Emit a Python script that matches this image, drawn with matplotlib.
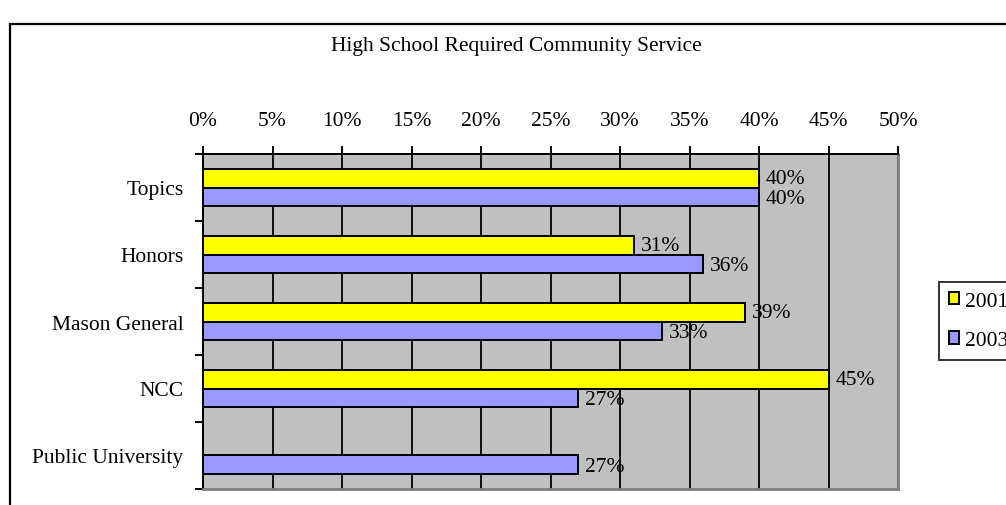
import numpy as np
import matplotlib
matplotlib.use('Agg')
from matplotlib import pyplot as plt
from matplotlib.patches import Rectangle, Patch
from matplotlib.ticker import PercentFormatter

categories = ['Topics', 'Honors', 'Mason General', 'NCC', 'Public University']
y2001 = [40, 31, 39, 45, None]
y2003 = [40, 36, 33, 27, 27]
years = ['2001', '2003']
xticks = [0, 5, 10, 15, 20, 25, 30, 35, 40, 45, 50]

plt.rcParams['font.family'] = ['Liberation Serif', 'DejaVu Serif']
fs = 15.5

fig = plt.figure(figsize=(10.06, 5.06), dpi=100)
W, H = 1006, 506

# outer chart frame (runs off the right and bottom edges)
fig.patches.append(Rectangle((10 / W, -0.05), 1.1, 1 - 25 / H + 0.05, transform=fig.transFigure,
                             fill=False, edgecolor='black', linewidth=1.6))

ax = fig.add_axes([203 / W, 1 - 490 / H, 695 / W, (490 - 155) / H])
ax.set_facecolor('#C0C0C0')

y = np.arange(len(categories))
h = 0.28
v01 = np.array([np.nan if v is None else v for v in y2001], dtype=float)
v03 = np.array(y2003, dtype=float)
ax.barh(y - h / 2, np.nan_to_num(v01), height=h, color='#FFFF00', edgecolor='black',
        linewidth=1.4, zorder=3)
ax.barh(y + h / 2, v03, height=h, color='#9999FF', edgecolor='black', linewidth=1.4, zorder=3)

for yy, v in zip(y - h / 2, v01):
    if not np.isnan(v):
        ax.text(v + 0.5, yy, f'{v:.0f}%', va='center', ha='left', fontsize=fs, zorder=4)
for yy, v in zip(y + h / 2, v03):
    ax.text(v + 0.5, yy + 0.03, f'{v:.0f}%', va='center', ha='left', fontsize=fs, zorder=4)

ax.set_xlim(0, 50)
ax.set_ylim(len(categories) - 0.5, -0.5)
ax.set_xticks(xticks)
ax.xaxis.set_major_formatter(PercentFormatter(decimals=0))
ax.xaxis.tick_top()
ax.tick_params(axis='x', direction='out', length=6, width=1.4, pad=11.5, labelsize=fs)
ax.grid(axis='x', color='black', linewidth=1.3, zorder=1)
ax.set_axisbelow(True)

ax.set_yticks(y)
ax.set_yticklabels(categories, fontsize=fs)
ax.set_yticks(np.arange(len(categories) + 1) - 0.5, minor=True)
ax.tick_params(axis='y', which='major', length=0, pad=14)
ax.tick_params(axis='y', which='minor', direction='out', length=6, width=1.4)

for s in ['left', 'top']:
    ax.spines[s].set_color('black')
    ax.spines[s].set_linewidth(1.4)
for s in ['right', 'bottom']:
    ax.spines[s].set_color('#808080')
    ax.spines[s].set_linewidth(2)

fig.text(516 / W, 1 - 46 / H, 'High School Required Community Service', ha='center', va='center', fontsize=fs)

# legend sits partly past the right edge, as in the reference
handles = [Patch(facecolor='#FFFF00', edgecolor='black', linewidth=1.4),
           Patch(facecolor='#9999FF', edgecolor='black', linewidth=1.4)]
leg = fig.legend(handles, years, loc='upper left', bbox_to_anchor=(939 / W, 1 - 283 / H),
                 frameon=True, fancybox=False, edgecolor='black', fontsize=fs,
                 handlelength=0.5, handleheight=0.5, handletextpad=0.25, labelspacing=0.95,
                 borderpad=0.45, borderaxespad=0)
leg.get_frame().set_linewidth(1.4)

fig.savefig('out.png', dpi=100)
